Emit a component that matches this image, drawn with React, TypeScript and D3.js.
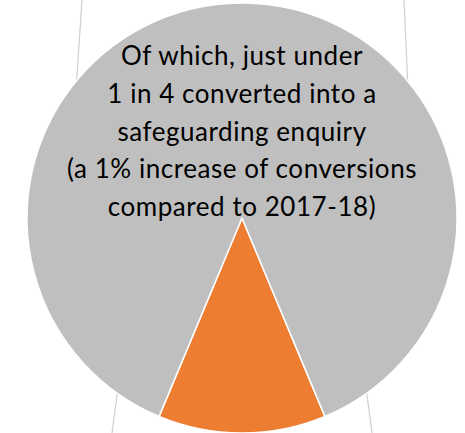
import React, { useEffect, useRef } from "react";
import * as d3 from "d3";

const categories = ["Not converted", "Converted into a safeguarding enquiry"];
const values = [87.4, 12.6];
const colors = ["#bfbfbf", "#ed7d31"];
const labelLines = [
  "Of which, just under",
  "1 in 4 converted into a",
  "safeguarding enquiry",
  "(a 1% increase of conversions",
  "compared to 2017-18)",
];

const W = 465;
const H = 433;
const cx = 242;
const cy = 218;
const R = 215;

export default function App() {
  const ref = useRef<SVGSVGElement>(null);

  useEffect(() => {
    const svg = d3.select(ref.current);
    svg.selectAll("*").remove();

    // connector lines behind the pie
    const connectors = [
      [82, 0, 76, 90],
      [404, 0, 408, 90],
      [119, 380, 112, 433],
      [365, 380, 372, 433],
    ];
    svg
      .append("g")
      .selectAll("line")
      .data(connectors)
      .join("line")
      .attr("x1", (d) => d[0])
      .attr("y1", (d) => d[1])
      .attr("x2", (d) => d[2])
      .attr("y2", (d) => d[3])
      .attr("stroke", "#cfcfcf")
      .attr("stroke-width", 1.2);

    const total = d3.sum(values);
    const orangeFrac = values[1] / total;
    const start = Math.PI - orangeFrac * Math.PI;
    const data = [
      { name: categories[1], value: values[1], color: colors[1] },
      { name: categories[0], value: values[0], color: colors[0] },
    ];
    const pie = d3
      .pie<any>()
      .sort(null)
      .value((d) => d.value)
      .startAngle(start)
      .endAngle(start + 2 * Math.PI);
    const arc = d3.arc<any>().innerRadius(0).outerRadius(R);

    const g = svg.append("g").attr("transform", `translate(${cx},${cy})`);
    g.selectAll("path")
      .data(pie(data))
      .join("path")
      .attr("d", arc as any)
      .attr("fill", (d: any) => d.data.color)
      .attr("stroke", "#ffffff")
      .attr("stroke-width", 1.5)
      .attr("stroke-linejoin", "round");

    const t = svg
      .append("text")
      .attr("text-anchor", "middle")
      .attr("font-family", "Lato, 'Open Sans', sans-serif")
      .attr("font-size", 26)
      .attr("letter-spacing", 0.55)
      .attr("fill", "#000");
    labelLines.forEach((line, i) => {
      t.append("tspan")
        .attr("x", cx)
        .attr("y", 65 + i * 37.8)
        .text(line);
    });
  }, []);

  return (
    <svg
      ref={ref}
      width={W}
      height={H}
      style={{ position: "absolute", left: 0, top: 0, background: "#fff" }}
    />
  );
}
